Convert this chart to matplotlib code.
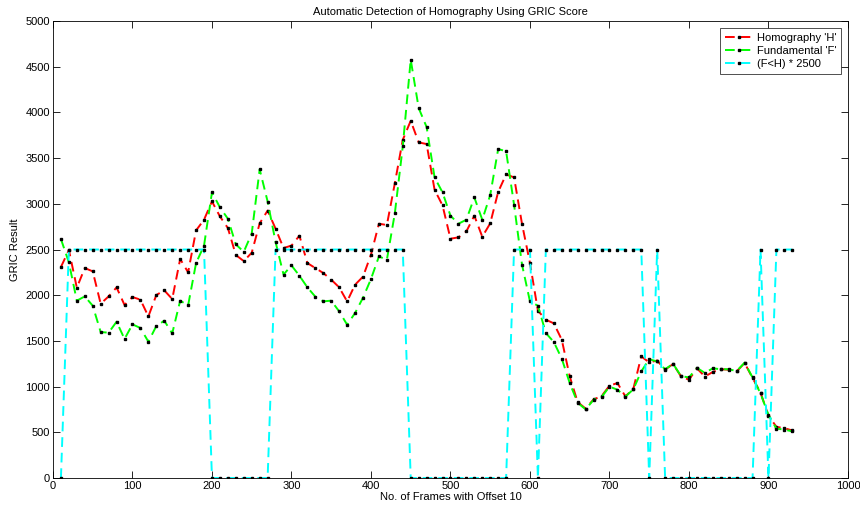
import numpy as np
import matplotlib
matplotlib.use("Agg")
import matplotlib.pyplot as plt

plt.rcParams['font.family'] = ['Liberation Sans', 'DejaVu Sans']

# frame numbers (offset 10)
frames = list(range(10, 940, 10))

# GRIC scores
homography = [
    2308, 2495, 2082, 2297, 2261, 1907, 1987, 2085, 1893, 1980,
    1951, 1768, 2002, 2053, 1958, 2396, 2250, 2709, 2826, 3026,
    2862, 2735, 2440, 2373, 2465, 2786, 2926, 2728, 2516, 2543,
    2651, 2352, 2297, 2243, 2170, 2086, 1932, 2115, 2203, 2443,
    2782, 2768, 3224, 3700, 3908, 3672, 3654, 3154, 2983, 2618,
    2633, 2698, 2870, 2640, 2786, 3130, 3322, 3289, 2780, 2352,
    1830, 1732, 1692, 1513, 1112, 830, 760, 860, 895, 1010,
    1039, 893, 975, 1330, 1265, 1285, 1185, 1247, 1112, 1075,
    1200, 1110, 1160, 1190, 1185, 1166, 1258, 1094, 935, 682,
    560, 545, 520,
]
fundamental = [
    2615, 2359, 1940, 1987, 1885, 1597, 1590, 1710, 1521, 1681,
    1641, 1491, 1663, 1721, 1582, 1940, 1889, 2352, 2542, 3127,
    2961, 2837, 2556, 2475, 2675, 3377, 3025, 2582, 2226, 2326,
    2213, 2086, 1984, 1933, 1940, 1823, 1677, 1805, 1973, 2177,
    2424, 2388, 2895, 3628, 4577, 4048, 3840, 3289, 3125, 2870,
    2782, 2826, 3070, 2826, 3096, 3599, 3575, 2990, 2334, 1932,
    1885, 1586, 1488, 1306, 1039, 822, 752, 855, 885, 1000,
    966, 890, 970, 1166, 1300, 1275, 1190, 1250, 1115, 1100,
    1205, 1150, 1200, 1190, 1190, 1170, 1262, 1100, 925, 690,
    540, 530, 510,
]
# (F<H) * 2500
f_less_h = [
    0, 2500, 2500, 2500, 2500, 2500, 2500, 2500, 2500, 2500,
    2500, 2500, 2500, 2500, 2500, 2500, 2500, 2500, 2500, 0,
    0, 0, 0, 0, 0, 0, 0, 2500, 2500, 2500,
    2500, 2500, 2500, 2500, 2500, 2500, 2500, 2500, 2500, 2500,
    2500, 2500, 2500, 2500, 0, 0, 0, 0, 0, 0,
    0, 0, 0, 0, 0, 0, 0, 2500, 2500, 2500,
    0, 2500, 2500, 2500, 2500, 2500, 2500, 2500, 2500, 2500,
    2500, 2500, 2500, 2500, 0, 2500, 0, 0, 0, 0,
    0, 0, 0, 0, 0, 0, 0, 0, 2500, 0,
    2500, 2500, 2500,
]

fig = plt.figure(figsize=(8.6, 5.09), dpi=100)
ax = fig.add_axes([0.0616, 0.0609, 0.9244, 0.8978])

style = dict(linestyle='--', linewidth=1.4, marker='s', markersize=1.7,
             markerfacecolor='black', markeredgecolor='black', dashes=(5, 3))
ax.plot(frames, homography, color='#ff0000', label="Homography 'H'", **style)
ax.plot(frames, fundamental, color='#00ff00', label="Fundamental 'F'", **style)
ax.plot(frames, f_less_h, color='#00ffff', label="(F<H) * 2500", **style)

ax.set_xlim(0, 1000)
ax.set_ylim(0, 5000)
ax.set_xticks(np.arange(0, 1001, 100))
ax.set_yticks(np.arange(0, 5001, 500))
ax.tick_params(direction='in', length=5, width=0.6, labelsize=8,
               top=True, right=True, pad=2)
for s in ax.spines.values():
    s.set_linewidth(0.6)

ax.set_title("Automatic Detection of Homography Using GRIC Score", fontsize=8, pad=4)
ax.set_xlabel("No. of Frames with Offset 10", fontsize=8, labelpad=1)
ax.set_ylabel("GRIC Result", fontsize=8, labelpad=4)

leg = ax.legend(loc='upper right', fontsize=8, frameon=True, fancybox=False,
                borderaxespad=0.6, handlelength=2.6, handletextpad=0.3,
                labelspacing=0.3, borderpad=0.45)
leg.get_frame().set_edgecolor('black')
leg.get_frame().set_linewidth(0.6)

fig.savefig("out.png", dpi=100)
